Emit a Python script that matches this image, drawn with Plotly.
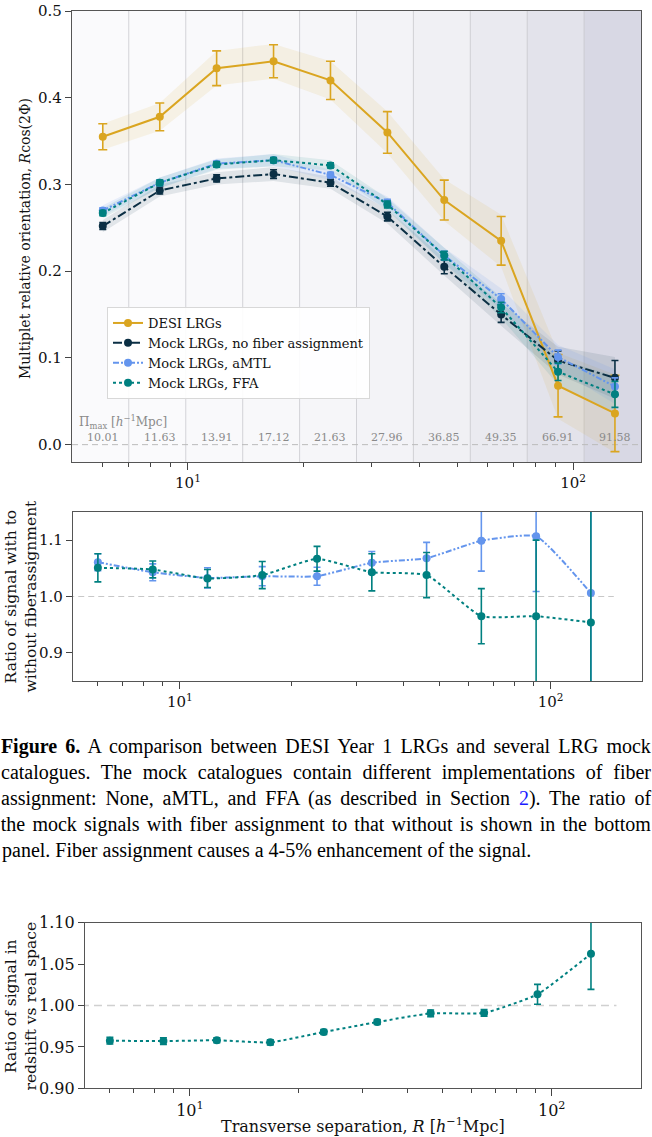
import plotly.graph_objects as go
import numpy as np

# ---------------- data ----------------
R = [6.01, 8.45, 11.87, 16.68, 23.44, 32.94, 46.28, 65.02, 91.36, 128.37]
bin_edges = [5.0, 7.02, 9.87, 13.87, 19.49, 27.39, 38.48, 54.07, 75.97, 106.74, 150.0]
pi_max = [10.01, 11.63, 13.91, 17.12, 21.63, 27.96, 36.85, 49.35, 66.91, 91.58]

desi = [0.355, 0.378, 0.434, 0.442, 0.420, 0.360, 0.282, 0.235, 0.068, 0.036]
desi_err = [0.015, 0.016, 0.020, 0.019, 0.022, 0.024, 0.023, 0.028, 0.036, 0.044]
desi_band = [0.015, 0.016, 0.020, 0.020, 0.022, 0.024, 0.024, 0.030, 0.038, 0.045]

nofa = [0.252, 0.293, 0.307, 0.312, 0.302, 0.263, 0.205, 0.150, 0.097, 0.077]
nofa_err = [0.004, 0.004, 0.004, 0.005, 0.004, 0.005, 0.008, 0.009, 0.011, 0.020]
nofa_band = [0.007, 0.007, 0.007, 0.008, 0.007, 0.008, 0.010, 0.013, 0.016, 0.024]

amtl = [0.270, 0.302, 0.324, 0.328, 0.311, 0.279, 0.218, 0.168, 0.101, 0.067]
amtl_err = [0.003, 0.003, 0.003, 0.003, 0.003, 0.004, 0.005, 0.006, 0.008, 0.010]
amtl_band = [0.006, 0.006, 0.006, 0.007, 0.006, 0.007, 0.009, 0.012, 0.014, 0.020]

ffa = [0.267, 0.302, 0.323, 0.328, 0.322, 0.277, 0.218, 0.158, 0.084, 0.058]
ffa_err = [0.003, 0.003, 0.003, 0.003, 0.003, 0.004, 0.005, 0.006, 0.010, 0.015]
ffa_band = [0.006, 0.006, 0.006, 0.007, 0.006, 0.007, 0.009, 0.012, 0.015, 0.021]

ratio_amtl = [1.061, 1.043, 1.033, 1.036, 1.036, 1.060, 1.068, 1.099, 1.107, 1.006]
ratio_amtl_err = [0.015, 0.015, 0.018, 0.017, 0.016, 0.020, 0.028, 0.054, 0.098, 0.200]
ratio_ffa = [1.051, 1.048, 1.032, 1.038, 1.067, 1.043, 1.038, 0.965, 0.965, 0.954]
ratio_ffa_err = [0.025, 0.015, 0.016, 0.024, 0.022, 0.033, 0.040, 0.049, 0.135, 0.250]

rsd_ratio = [0.9575, 0.957, 0.958, 0.9555, 0.968, 0.980, 0.9905, 0.991, 1.0135, 1.0625]
rsd_err = [0.004, 0.004, 0.003, 0.003, 0.003, 0.003, 0.004, 0.004, 0.012, 0.043]

top_ticks = [0.0, 0.1, 0.2, 0.3, 0.4, 0.5]
mid_ticks = [0.9, 1.0, 1.1]
bot_ticks = [0.90, 0.95, 1.00, 1.05, 1.10]
x_major = [10, 100]
x_major_text = ["10<sup>1</sup>", "10<sup>2</sup>"]
x_minor = [6, 7, 8, 9, 20, 30, 40, 50, 60, 70, 80, 90]

caption_lines = [
    "<b>Figure 6.</b> A comparison between DESI Year 1 LRGs and several LRG mock",
    "catalogues. The mock catalogues contain different implementations of fiber",
    "assignment: None, aMTL, and FFA (as described in Section <span style='color:#1a1aff'>2</span>). The ratio of",
    "the mock signals with fiber assignment to that without is shown in the bottom",
    "panel. Fiber assignment causes a 4-5% enhancement of the signal.",
]
justify_prefixes = ["Figure 6.", "catalogues.", "assignment:", "the mock signals"]

# ---------------- styling ----------------
W, H = 652, 1137
SERIF = "DejaVu Serif"
C_DESI = "#DAA520"
C_NOFA = "#0B2F44"
C_AMTL = "#6495ED"
C_FFA = "#008080"

def px_y(p):
    return 1 - p / H

def px_x(p):
    return p / W

fig = go.Figure()

def rgba(hexc, a):
    h = hexc.lstrip('#')
    r, g, b = int(h[0:2], 16), int(h[2:4], 16), int(h[4:6], 16)
    return f"rgba({r},{g},{b},{a})"

def band(y, w, color, alpha, xa, ya):
    y = np.array(y); w = np.array(w)
    fig.add_trace(go.Scatter(x=R, y=y + w, mode="lines", line=dict(width=0),
                             showlegend=False, hoverinfo="skip", xaxis=xa, yaxis=ya))
    fig.add_trace(go.Scatter(x=R, y=y - w, mode="lines", line=dict(width=0),
                             fill="tonexty", fillcolor=rgba(color, alpha),
                             showlegend=False, hoverinfo="skip", xaxis=xa, yaxis=ya))

band(desi, desi_band, C_DESI, 0.10, "x", "y")
band(nofa, nofa_band, C_NOFA, 0.10, "x", "y")
band(amtl, amtl_band, C_AMTL, 0.12, "x", "y")
band(ffa, ffa_band, C_FFA, 0.10, "x", "y")

def series(y, err, color, dash, name, xa, ya, legend=True, cap=4, size=8, shape="linear"):
    fig.add_trace(go.Scatter(
        x=R, y=y, mode="lines+markers", name=name,
        line=dict(color=color, width=2, dash=dash, shape=shape, smoothing=0.45),
        marker=dict(color=color, size=size),
        error_y=dict(type="data", array=err, visible=True, color=color,
                     thickness=1.6, width=cap),
        showlegend=legend, xaxis=xa, yaxis=ya))

series(desi, desi_err, C_DESI, "solid", "DESI LRGs", "x", "y", cap=4.5)
series(nofa, nofa_err, C_NOFA, "dashdot", "Mock LRGs, no fiber assignment", "x", "y", cap=3.5)
series(amtl, amtl_err, C_AMTL, "6px,2px,2px,2px,2px,2px", "Mock LRGs, aMTL", "x", "y", cap=3.5)
series(ffa, ffa_err, C_FFA, "dot", "Mock LRGs, FFA", "x", "y", cap=3.5)

series(ratio_amtl, ratio_amtl_err, C_AMTL, "6px,2px,2px,2px,2px,2px", "aMTL ratio", "x2", "y2",
       legend=False, cap=3.5, shape="spline")
series(ratio_ffa, ratio_ffa_err, C_FFA, "dot", "FFA ratio", "x2", "y2",
       legend=False, cap=3.5, shape="spline")

series(rsd_ratio, rsd_err, C_FFA, "dot", "RSD ratio", "x3", "y3",
       legend=False, cap=3.5, shape="spline")

shapes = []
for i in range(len(pi_max)):
    a = 0.2 * pi_max[i] / pi_max[-1]
    shapes.append(dict(type="rect", xref="x", yref="y domain",
                       x0=bin_edges[i], x1=bin_edges[i + 1], y0=0, y1=1,
                       fillcolor=f"rgba(60,60,120,{a:.3f})", line=dict(width=0), layer="below"))
for e in bin_edges[1:-1]:
    shapes.append(dict(type="line", xref="x", yref="y domain", x0=e, x1=e, y0=0, y1=1,
                       line=dict(color="rgba(200,200,205,0.8)", width=1), layer="below"))
shapes.append(dict(type="line", xref="x", yref="y", x0=bin_edges[0], x1=bin_edges[-1], y0=0, y1=0,
                   line=dict(color="#bbbbbb", width=1, dash="6px,4px"), layer="below"))
shapes.append(dict(type="line", xref="x2", yref="y2", x0=5.0, x1=148, y0=1, y1=1,
                   line=dict(color="#c8c8c8", width=1, dash="6px,4px"), layer="below"))
shapes.append(dict(type="line", xref="x3", yref="y3", x0=5.0, x1=151, y0=1, y1=1,
                   line=dict(color="#d0d0d0", width=1.5, dash="8px,5px"), layer="below"))

annotations = []
for i in range(len(pi_max)):
    annotations.append(dict(x=np.log10(R[i]), y=0.0085, xref="x", yref="y",
                            xanchor="center", yanchor="middle",
                            text=f"{pi_max[i]:.2f}", showarrow=False,
                            font=dict(family=SERIF, size=11, color="#8a8a8a")))
annotations.append(dict(x=px_x(77), y=px_y(422), xref="paper", yref="paper",
                        xanchor="left", yanchor="middle",
                        text="Π<sub>max</sub> [<i>h</i><sup>−1</sup>Mpc]", showarrow=False,
                        font=dict(family=SERIF, size=12, color="#8a8a8a")))

def ytitle(x, y, text, size):
    annotations.append(dict(x=px_x(x), y=px_y(y), xref="paper", yref="paper", textangle=-90,
                            xanchor="center", yanchor="middle", text=text, showarrow=False,
                            font=dict(family=SERIF, size=size, color="#111")))

ytitle(25, 239, "Multiplet relative orientation, <i>R</i>cos(2Φ)", 14)
ytitle(20.5, 596, "Ratio of signal with to<br>without fiberassignment", 15.5)
ytitle(20.5, 1006, "Ratio of signal in<br>redshift vs real space", 15.5)
annotations.append(dict(x=px_x(363), y=px_y(1125), xref="paper", yref="paper",
                        xanchor="center", yanchor="middle",
                        text="Transverse separation, <i>R</i> [<i>h</i><sup>−1</sup>Mpc]", showarrow=False,
                        font=dict(family=SERIF, size=16, color="#111")))

for i, line in enumerate(caption_lines):
    last = i == len(caption_lines) - 1
    annotations.append(dict(x=0.0 if last else 0.5, y=px_y(746 + 26 * i), xref="paper", yref="paper",
                            xanchor="left" if last else "center", yanchor="middle",
                            text=line, showarrow=False,
                            font=dict(family="Liberation Serif", size=20, color="#000")))

def xax(domain, anchor, rng, fs):
    return dict(type="log", domain=domain, anchor=anchor, range=[np.log10(rng[0]), np.log10(rng[1])],
                tickvals=x_major, ticktext=x_major_text, ticks="outside", ticklen=7,
                tickcolor="#444", showgrid=False, zeroline=False, showline=True, mirror=True,
                linecolor="#555", linewidth=1.2, automargin=False,
                tickfont=dict(family=SERIF, size=fs, color="#111"),
                minor=dict(tickvals=x_minor, ticks="outside", ticklen=4, tickcolor="#444", showgrid=False))

def yax(domain, anchor, rng, tv, tt, fs):
    return dict(domain=domain, anchor=anchor, range=rng, tickvals=tv, ticktext=tt,
                ticks="outside", ticklen=6, tickcolor="#444", showgrid=False, zeroline=False,
                showline=True, mirror=True, linecolor="#555", linewidth=1.2, automargin=False,
                tickfont=dict(family=SERIF, size=fs, color="#111"))

fig.update_layout(
    width=W, height=H, margin=dict(l=0, r=0, t=0, b=0, autoexpand=False),
    paper_bgcolor="white", plot_bgcolor="white",
    showlegend=True,
    legend=dict(x=px_x(107), y=px_y(307), xanchor="left", yanchor="top",
                traceorder="normal",
                bgcolor="rgba(255,255,255,0.9)", bordercolor="#d8d8d8", borderwidth=1,
                font=dict(family=SERIF, size=13, color="#111"),
                itemwidth=30, tracegroupgap=0),
    xaxis=xax([px_x(72), px_x(641)], "y", [5.0, 150.0], 15),
    yaxis=yax([px_y(462), px_y(11)], "x", [-0.02, 0.5], top_ticks,
              [f"{v:.1f}" for v in top_ticks], 15),
    xaxis2=xax([px_x(73), px_x(641.7)], "y2", [5.15, 176.0], 15),
    yaxis2=yax([px_y(681), px_y(512)], "x2", [0.85, 1.15], mid_ticks,
               [f"{v:.1f}" for v in mid_ticks], 15),
    xaxis3=xax([px_x(85), px_x(641)], "y3", [5.13, 176.5], 16),
    yaxis3=yax([px_y(1088.3), px_y(922.7)], "x3", [0.90, 1.10], bot_ticks,
               [f"{v:.2f}" for v in bot_ticks], 16),
    shapes=shapes, annotations=annotations,
)

prefix_js = "[" + ",".join("'" + p + "'" for p in justify_prefixes) + "]"
post_script = """
document.body.style.margin='0px';
(function(){
  var gd=document.getElementById('{plot_id}');
  var prefixes=PREFIXES;
  function just(){
    try{
      var els=gd.querySelectorAll('.annotation-text');
      els.forEach(function(el){
        var t=el.textContent||'';
        var ok=prefixes.some(function(p){return t.indexOf(p)===0;});
        if(!ok) return;
        el.style.wordSpacing='0px';
        var n=(t.match(/ /g)||[]).length;
        var L=el.getComputedTextLength();
        if(n>0){ el.style.wordSpacing=((650-L)/n)+'px'; }
      });
    }catch(e){}
  }
  just();
  if(document.fonts&&document.fonts.ready){document.fonts.ready.then(just);}
  setTimeout(just,200);
})();
""".replace("PREFIXES", prefix_js)

fig.write_html("out.html", post_script=post_script, config={"displayModeBar": False})
